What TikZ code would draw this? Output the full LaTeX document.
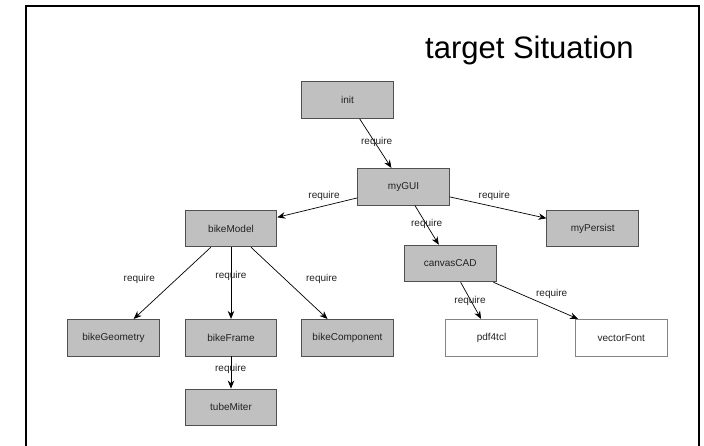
\documentclass[tikz,border=0pt]{standalone}
\usepackage{fontspec}
\setmainfont{Liberation Sans}
\usetikzlibrary{arrows.meta}
\definecolor{boxfill}{HTML}{C0C0C0}
\definecolor{boxline}{HTML}{505050}
\definecolor{txt}{HTML}{222222}
\tikzset{
  mod/.style={draw=boxline, line width=0.8pt, fill=boxfill, minimum width=91.7pt, minimum height=36.7pt, inner sep=0pt, font=\fontsize{10}{12}\selectfont, text=txt},
  ext/.style={mod, fill=white, draw=boxline!70},
  lbl/.style={font=\fontsize{10}{12}\selectfont, text=txt, inner sep=0pt},
  req/.style={draw=black, line width=0.7pt, -{Stealth[length=8pt,width=6.5pt]}},
  frameline/.style={draw=black, line width=2pt}
}
\begin{document}
\begin{tikzpicture}[x=1pt,y=-1pt]
\useasboundingbox (0,0) rectangle (704,446);
\coordinate (fbl) at (26,447);
\coordinate (ftl) at (26,6);
\coordinate (ftr) at (699,6);
\coordinate (fbr) at (699,447);
\draw[frameline] (fbl) -- (ftl) -- (ftr) -- (fbr);
\node[font=\fontsize{31}{36}\selectfont, anchor=base west, inner sep=0pt] (title) at (425,59) {target Situation};

\node[mod] (init) at (347.5,100) {init};
\node[mod] (gui) at (403.5,186.7) {myGUI};
\node[mod] (model) at (231,228.5) {bikeModel};
\node[mod] (persist) at (592.7,228.5) {myPersist};
\node[mod] (cad) at (450.2,263.5) {canvasCAD};
\node[mod] (geom) at (113.5,337.7) {bikeGeometry};
\node[mod] (frame) at (231,337.7) {bikeFrame};
\node[mod] (comp) at (347.5,337.7) {bikeComponent};
\node[ext] (pdf) at (491.5,337.7) {pdf4tcl};
\node[ext] (vfont) at (621.3,337.7) {vectorFont};
\node[mod] (miter) at (231,407.3) {tubeMiter};

\draw[req] (init) -- (gui);
\draw[req] (gui) -- (model);
\draw[req] (gui) -- (persist);
\draw[req] (gui) -- (cad);
\draw[req] (model) -- (geom);
\draw[req] (model) -- (frame);
\draw[req] (model) -- (comp);
\draw[req] (frame) -- (miter);
\draw[req] (cad) -- (pdf);
\draw[req] (cad) -- (vfont);

\node[lbl] (l1) at (376.7,141.7) {require};
\node[lbl] (l2) at (324,195.7) {require};
\node[lbl] (l3) at (494.3,195.7) {require};
\node[lbl] (l4) at (426.7,224.3) {require};
\node[lbl] (l5) at (139.3,279.3) {require};
\node[lbl] (l6) at (231,276) {require};
\node[lbl] (l7) at (321.7,279.3) {require};
\node[lbl] (l8) at (230.7,369) {require};
\node[lbl] (l9) at (470,300.7) {require};
\node[lbl] (l10) at (551.7,294) {require};
\end{tikzpicture}
\end{document}
